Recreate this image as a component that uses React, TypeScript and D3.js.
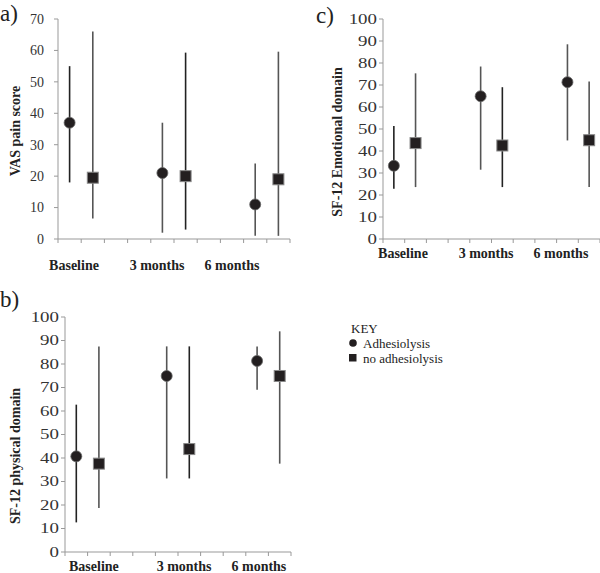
import React from 'react'
import * as d3 from 'd3'

const timepoints = ['Baseline', '3 months', '6 months']
const groups = ['Adhesiolysis', 'no adhesiolysis']

// [timepoint][group] -> [median, low, high]
const vasValues = [
  [[37, 18, 55], [19.5, 6.5, 66]],
  [[21, 2, 37], [20, 3, 59.3]],
  [[11, 1, 24], [19, 1, 59.6]],
]
const physicalValues = [
  [[40.7, 12.6, 62.7], [37.6, 18.7, 87.5]],
  [[74.9, 31.3, 87.5], [43.8, 31.3, 87.5]],
  [[81.3, 69, 87.5], [74.9, 37.6, 93.9]],
]
const emotionalValues = [
  [[33.3, 22.8, 51.4], [43.6, 23.6, 75.3]],
  [[64.9, 31.5, 78.4], [42.5, 23.6, 69]],
  [[71.3, 44.8, 88.5], [44.9, 23.6, 71.6]],
]

const vasTicks = [0, 10, 20, 30, 40, 50, 60, 70]
const sfTicks = [0, 10, 20, 30, 40, 50, 60, 70, 80, 90, 100]

const font = "'Liberation Serif', 'Times New Roman', Times, serif"

interface PanelProps {
  letter: string
  letterX: number
  letterY: number
  yLabel: string
  yLabelX: number
  yLabelY: number
  values: number[][][]
  ticks: number[]
  tickGap: number
  tickStretch: number
  x0: number
  x1: number
  yTop: number
  yBottom: number
  catY: number
  labelSlots: number[]
}

const Panel: React.FC<PanelProps> = (p) => {
  const x = d3.scaleLinear().domain([0, 10]).range([p.x0, p.x1])
  const y = d3
    .scaleLinear()
    .domain([0, d3.max(p.ticks) as number])
    .range([p.yBottom, p.yTop])
  const slotTicks = d3.range(0, 11)
  const marks = p.values.flatMap((tp, i) =>
    tp.map((v, g) => ({ slot: i * 4 + g + 0.5, g, mid: v[0], lo: v[1], hi: v[2] }))
  )
  return (
    <g style={{ fontFamily: font }}>
      <text x={p.letterX} y={p.letterY} fontSize={23} fill="#222">
        {p.letter}
      </text>
      <text
        transform={`translate(${p.yLabelX},${p.yLabelY}) rotate(-90)`}
        textAnchor="middle"
        fontSize={14}
        fontWeight="bold"
        fill="#222"
      >
        {p.yLabel}
      </text>
      <line x1={p.x0} x2={p.x0} y1={p.yTop} y2={p.yBottom} stroke="#999" />
      <line x1={p.x0} x2={p.x1} y1={p.yBottom} y2={p.yBottom} stroke="#999" />
      {p.ticks.map((t) => (
        <g key={t}>
          <line x1={p.x0 - 4} x2={p.x0} y1={y(t)} y2={y(t)} stroke="#999" />
          <text
            transform={`translate(${p.x0 - p.tickGap},${y(t)}) scale(${p.tickStretch},1)`}
            dy="0.35em"
            textAnchor="end"
            fontSize={14}
            fill="#333"
          >
            {t}
          </text>
        </g>
      ))}
      {slotTicks.map((s) => (
        <line key={s} x1={x(s)} x2={x(s)} y1={p.yBottom} y2={p.yBottom + 4} stroke="#999" />
      ))}
      {timepoints.map((t, i) => (
        <text
          key={t}
          x={x(p.labelSlots[i])}
          y={p.catY}
          textAnchor="middle"
          fontSize={14}
          fontWeight="bold"
          fill="#222"
        >
          {t}
        </text>
      ))}
      {marks.map((m, k) => (
        <g key={k}>
          <line
            x1={x(m.slot)}
            x2={x(m.slot)}
            y1={y(m.lo)}
            y2={y(m.hi)}
            stroke={k % 3 === 0 ? '#222' : '#555'}
            strokeWidth={1.6}
          />
          {m.g === 0 ? (
            <circle cx={x(m.slot)} cy={y(m.mid)} r={5.5} fill="#231f20" stroke="#666" strokeWidth={0.8} />
          ) : (
            <rect
              x={x(m.slot) - 5.5}
              y={y(m.mid) - 5.5}
              width={11}
              height={11}
              fill="#231f20"
              stroke="#888"
              strokeWidth={1}
            />
          )}
        </g>
      ))}
    </g>
  )
}

export default function App() {
  return (
    <svg width={600} height={573} style={{ position: 'absolute', left: 0, top: 0, background: '#fff' }}>
      <Panel
        letter="a)"
        letterX={0}
        letterY={21}
        yLabel="VAS pain score"
        yLabelX={20}
        yLabelY={131}
        values={vasValues}
        ticks={vasTicks}
        tickGap={14}
        tickStretch={1}
        x0={58}
        x1={290}
        yTop={19}
        yBottom={239}
        catY={270}
        labelSlots={[0.69, 4.27, 7.5]}
      />
      <Panel
        letter="c)"
        letterX={316}
        letterY={23}
        yLabel="SF-12 Emotional domain"
        yLabelX={342}
        yLabelY={142}
        values={emotionalValues}
        ticks={sfTicks}
        tickGap={6}
        tickStretch={1.35}
        x0={383}
        x1={600}
        yTop={19}
        yBottom={239}
        catY={258}
        labelSlots={[0.92, 4.75, 8.2]}
      />
      <Panel
        letter="b)"
        letterX={0}
        letterY={307}
        yLabel="SF-12 physical domain"
        yLabelX={20}
        yLabelY={456}
        values={physicalValues}
        ticks={sfTicks}
        tickGap={6}
        tickStretch={1.35}
        x0={65}
        x1={291}
        yTop={317}
        yBottom={552}
        catY={571}
        labelSlots={[1.28, 5.27, 8.58]}
      />
      <g style={{ fontFamily: font }} fontSize={13} fill="#222">
        <text x={351} y={333}>KEY</text>
        {groups.map((g, i) => (
          <g key={g}>
            {i === 0 ? (
              <circle cx={353} cy={343} r={3.8} fill="#231f20" />
            ) : (
              <rect x={349} y={354} width={7.5} height={7.5} fill="#231f20" />
            )}
            <text x={363} y={343 + i * 15} dy="0.35em">
              {g}
            </text>
          </g>
        ))}
      </g>
    </svg>
  )
}
